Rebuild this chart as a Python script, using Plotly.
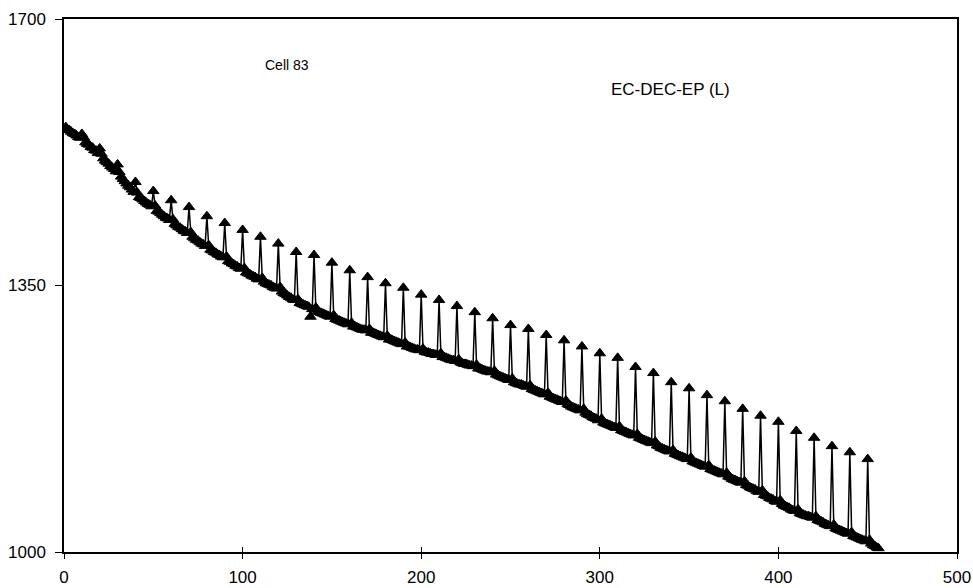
import plotly.graph_objects as go

# Capacity (mAh) per cycle, cycles 1..456 (every 10th cycle is a recovery spike)
capacity = [
    1558, 1555, 1554, 1552, 1550, 1549, 1547, 1545, 1544, 1549,
    1545, 1538, 1536, 1535, 1532, 1531, 1528, 1527, 1524, 1530,
    1523, 1517, 1514, 1512, 1510, 1507, 1505, 1503, 1500, 1509,
    1499, 1493, 1490, 1487, 1484, 1481, 1479, 1476, 1473, 1486,
    1472, 1466, 1465, 1463, 1461, 1459, 1457, 1456, 1454, 1474,
    1455, 1448, 1447, 1445, 1443, 1441, 1439, 1438, 1436, 1462,
    1437, 1431, 1429, 1427, 1426, 1424, 1422, 1421, 1419, 1453,
    1420, 1414, 1412, 1410, 1409, 1407, 1405, 1404, 1402, 1441,
    1403, 1397, 1396, 1394, 1393, 1391, 1390, 1388, 1387, 1432,
    1388, 1382, 1381, 1379, 1378, 1376, 1375, 1373, 1372, 1423,
    1373, 1367, 1366, 1365, 1363, 1362, 1361, 1359, 1358, 1414,
    1360, 1355, 1353, 1352, 1351, 1350, 1348, 1347, 1346, 1405,
    1348, 1342, 1340, 1339, 1337, 1335, 1334, 1332, 1331, 1394,
    1332, 1327, 1326, 1325, 1324, 1323, 1322, 1309, 1319, 1390,
    1321, 1316, 1315, 1314, 1313, 1312, 1311, 1310, 1309, 1380,
    1311, 1306, 1305, 1304, 1303, 1302, 1301, 1300, 1299, 1370,
    1301, 1296, 1296, 1295, 1294, 1293, 1292, 1292, 1291, 1361,
    1293, 1288, 1288, 1287, 1286, 1285, 1284, 1283, 1282, 1353,
    1284, 1279, 1279, 1278, 1277, 1276, 1275, 1274, 1273, 1347,
    1275, 1270, 1270, 1269, 1268, 1267, 1266, 1266, 1265, 1338,
    1267, 1263, 1262, 1262, 1261, 1260, 1260, 1259, 1259, 1331,
    1261, 1256, 1256, 1255, 1254, 1253, 1252, 1252, 1251, 1323,
    1253, 1249, 1248, 1247, 1247, 1246, 1245, 1245, 1244, 1315,
    1246, 1241, 1241, 1240, 1239, 1238, 1237, 1237, 1236, 1307,
    1238, 1233, 1232, 1231, 1230, 1229, 1228, 1227, 1226, 1298,
    1228, 1223, 1222, 1221, 1220, 1220, 1219, 1218, 1217, 1293,
    1219, 1214, 1213, 1212, 1211, 1210, 1209, 1208, 1207, 1285,
    1209, 1204, 1203, 1202, 1201, 1200, 1199, 1198, 1197, 1278,
    1199, 1194, 1193, 1191, 1190, 1189, 1188, 1187, 1186, 1270,
    1188, 1183, 1181, 1180, 1179, 1177, 1176, 1175, 1173, 1261,
    1175, 1170, 1169, 1168, 1167, 1166, 1165, 1164, 1163, 1255,
    1165, 1160, 1159, 1158, 1157, 1156, 1155, 1154, 1153, 1243,
    1155, 1150, 1149, 1148, 1147, 1146, 1145, 1144, 1143, 1235,
    1145, 1140, 1139, 1137, 1136, 1135, 1134, 1133, 1132, 1223,
    1134, 1129, 1128, 1127, 1126, 1125, 1124, 1123, 1122, 1215,
    1124, 1119, 1118, 1117, 1116, 1115, 1114, 1113, 1112, 1206,
    1114, 1109, 1108, 1107, 1106, 1105, 1104, 1103, 1102, 1198,
    1104, 1099, 1098, 1096, 1095, 1094, 1093, 1092, 1091, 1188,
    1093, 1088, 1087, 1085, 1084, 1083, 1082, 1080, 1079, 1179,
    1081, 1075, 1074, 1073, 1071, 1070, 1069, 1067, 1066, 1171,
    1068, 1063, 1061, 1060, 1059, 1058, 1056, 1055, 1054, 1159,
    1056, 1051, 1050, 1049, 1048, 1047, 1047, 1046, 1045, 1150,
    1047, 1042, 1041, 1040, 1039, 1037, 1036, 1035, 1034, 1139,
    1036, 1031, 1030, 1029, 1028, 1027, 1026, 1025, 1024, 1131,
    1026, 1021, 1020, 1019, 1018, 1017, 1016, 1015, 1014, 1122,
    1016, 1011, 1009, 1008, 1006, 1005,
]
cycles = list(range(1, len(capacity) + 1))

x_ticks = [0, 100, 200, 300, 400, 500]
y_ticks = [1000, 1350, 1700]
cell_label = "Cell 83"
series_label = "EC-DEC-EP (L)"

FONT = "Liberation Sans, Arial, sans-serif"

fig = go.Figure()
fig.add_trace(go.Scatter(
    x=cycles, y=capacity, mode="lines+markers",
    line=dict(color="black", width=1.5),
    marker=dict(symbol="triangle-up", size=10, color="black",
                line=dict(color="black", width=1)),
    showlegend=False, hoverinfo="skip",
))
fig.add_trace(go.Scatter(x=[], y=[], xaxis="x2", yaxis="y", showlegend=False))

fig.update_layout(
    width=973, height=588,
    margin=dict(l=64, r=16, t=19, b=36, autoexpand=False),
    paper_bgcolor="white", plot_bgcolor="white",
    font=dict(family=FONT, size=17, color="black"),
    xaxis=dict(range=[0, 500], tickvals=x_ticks, ticks="outside", ticklen=5,
               tickcolor="black", tickwidth=1, showgrid=False, zeroline=False,
               showline=True, linecolor="black", linewidth=1.5, mirror=True,
               automargin=False, tickfont=dict(size=17, family=FONT),
               ticklabelstandoff=4),
    xaxis2=dict(range=[0, 500], overlaying="x", anchor="y", side="bottom",
                tickvals=x_ticks, ticks="inside", ticklen=5, tickcolor="black",
                tickwidth=1, showticklabels=False, showgrid=False,
                zeroline=False, showline=False, automargin=False),
    yaxis=dict(range=[1000, 1700], tickvals=y_ticks, ticks="outside", ticklen=7,
               tickcolor="black", tickwidth=1, showgrid=False, zeroline=False,
               showline=True, linecolor="black", linewidth=1.5, mirror=True,
               automargin=False, tickfont=dict(size=17, family=FONT),
               ticklabelstandoff=6),
    annotations=[
        dict(text=cell_label, x=124.7, y=1639, xref="x", yref="y",
             showarrow=False, font=dict(size=14, family=FONT)),
        dict(text=series_label, x=339.5, y=1608, xref="x", yref="y",
             showarrow=False, font=dict(size=17, family=FONT)),
    ],
)
fig.write_html("out.html")
